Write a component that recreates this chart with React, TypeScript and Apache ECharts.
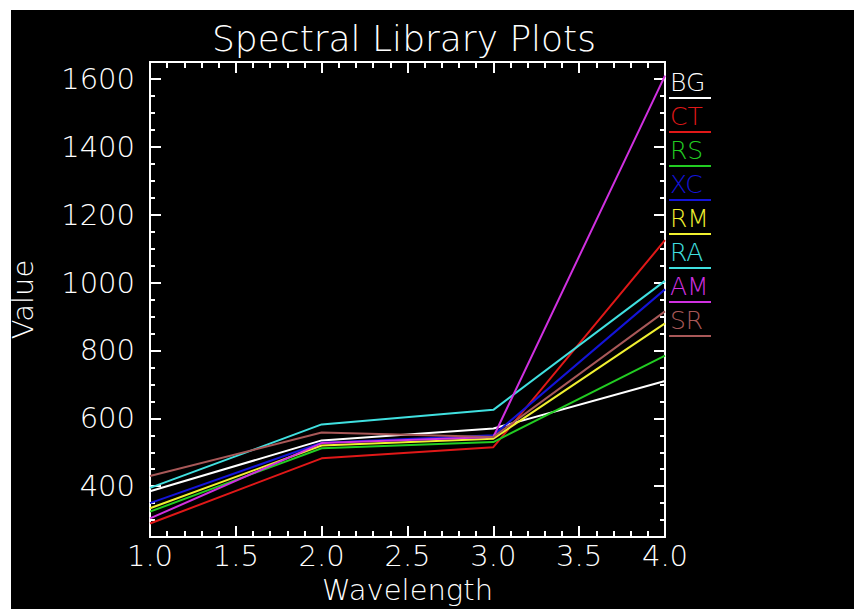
import React, { useEffect, useRef } from "react";
import * as echarts from "echarts";

const wavelengths = [1.0, 2.0, 3.0, 4.0];
const seriesNames = ["BG", "CT", "RS", "XC", "RM", "RA", "AM", "SR"];
const seriesColors = ["#ffffff", "#e01818", "#22cc22", "#1414d8", "#f0f030", "#40e0e0", "#d030e0", "#a85858"];
const bgValues = [385, 535, 570, 710];
const ctValues = [290, 482, 515, 1125];
const rsValues = [325, 512, 530, 785];
const xcValues = [350, 528, 550, 980];
const rmValues = [335, 520, 540, 880];
const raValues = [395, 582, 625, 1005];
const amValues = [305, 527, 545, 1610];
const srValues = [430, 558, 545, 915];
const allValues = [bgValues, ctValues, rsValues, xcValues, rmValues, raValues, amValues, srValues];
const yMajorTicks = [400, 600, 800, 1000, 1200, 1400, 1600];

const FONT = "DejaVu Sans";
const WEIGHT = 200;

export default function App() {
  const ref = useRef<HTMLDivElement>(null);
  useEffect(() => {
    if (!ref.current) return;
    const chart = echarts.init(ref.current, null, { renderer: "svg" });
    const axisLine = { show: true, lineStyle: { color: "#ffffff", width: 2 } };
    const xCommon = {
      type: "value",
      min: 1,
      max: 4,
      interval: 0.5,
      axisLine,
      axisTick: { show: true, inside: true, length: 11, lineStyle: { color: "#ffffff", width: 2 } },
      minorTick: { show: true, splitNumber: 5, length: 6, lineStyle: { color: "#ffffff", width: 2 } },
      splitLine: { show: false },
      minorSplitLine: { show: false },
    };
    const yMinor = {
      type: "value",
      min: 250,
      max: 1650,
      interval: 50,
      axisLine,
      axisTick: { show: true, inside: true, length: 5, lineStyle: { color: "#ffffff", width: 2 } },
      splitLine: { show: false },
      axisLabel: { show: false },
    };
    const yMajor = {
      type: "value",
      min: 250,
      max: 1650,
      interval: 50,
      axisLine,
      axisTick: { show: true, inside: true, length: 11, customValues: yMajorTicks, lineStyle: { color: "#ffffff", width: 2 } },
      splitLine: { show: false },
      axisLabel: { show: false },
    };
    const graphics: any[] = [
      {
        type: "text",
        x: 404,
        y: 20,
        style: { text: "Spectral Library Plots", fill: "#ffffff", font: `${WEIGHT} 36px "${FONT}"`, textAlign: "center", textVerticalAlign: "top" },
      },
    ];
    seriesNames.forEach((name, i) => {
      graphics.push({
        type: "text",
        x: 670,
        y: 70 + i * 34,
        style: { text: name, fill: seriesColors[i], font: `${WEIGHT} 25px "${FONT}"`, textAlign: "left", textVerticalAlign: "top" },
      });
      graphics.push({
        type: "line",
        shape: { x1: 669, y1: 98 + i * 34, x2: 711, y2: 98 + i * 34 },
        style: { stroke: seriesColors[i], lineWidth: 2 },
      });
    });
    chart.setOption({
      animation: false,
      backgroundColor: "transparent",
      grid: { left: 150, top: 62, width: 515, height: 485, containLabel: false },
      xAxis: [
        {
          ...xCommon,
          position: "bottom",
          axisLabel: {
            show: true,
            color: "#ffffff",
            fontFamily: FONT,
            fontWeight: WEIGHT,
            fontSize: 29,
            margin: 4,
            formatter: (v: number) => v.toFixed(1),
          },
          name: "Wavelength",
          nameLocation: "middle",
          nameGap: 25,
          nameTextStyle: { color: "#ffffff", fontFamily: FONT, fontWeight: WEIGHT, fontSize: 29 },
        },
        { ...xCommon, position: "top", axisLabel: { show: false } },
      ],
      yAxis: [
        {
          ...yMinor,
          position: "left",
          axisLabel: {
            show: true,
            color: "#ffffff",
            fontFamily: FONT,
            fontWeight: WEIGHT,
            fontSize: 29,
            margin: 15,
            formatter: (v: number) => (v % 200 === 0 ? String(v) : ""),
          },
          name: "Value",
          nameLocation: "middle",
          nameGap: 113,
          nameTextStyle: { color: "#ffffff", fontFamily: FONT, fontWeight: WEIGHT, fontSize: 29 },
        },
        { ...yMajor, position: "left" },
        { ...yMinor, position: "right" },
        { ...yMajor, position: "right" },
      ],
      series: seriesNames.map((name, i) => ({
        name,
        type: "line",
        xAxisIndex: 0,
        yAxisIndex: 0,
        symbol: "none",
        lineStyle: { color: seriesColors[i], width: 2 },
        itemStyle: { color: seriesColors[i] },
        data: wavelengths.map((w, j) => [w, allValues[i][j]]),
      })),
      graphic: graphics,
    });
    return () => chart.dispose();
  }, []);
  return (
    <div style={{ position: "fixed", left: 0, top: 0, width: 854, height: 609, background: "#ffffff" }}>
      <div style={{ position: "absolute", left: 11, top: 10, right: 0, bottom: 0, background: "#000000" }} />
      <div ref={ref} style={{ position: "absolute", left: 0, top: 0, width: 854, height: 609 }} />
    </div>
  );
}
